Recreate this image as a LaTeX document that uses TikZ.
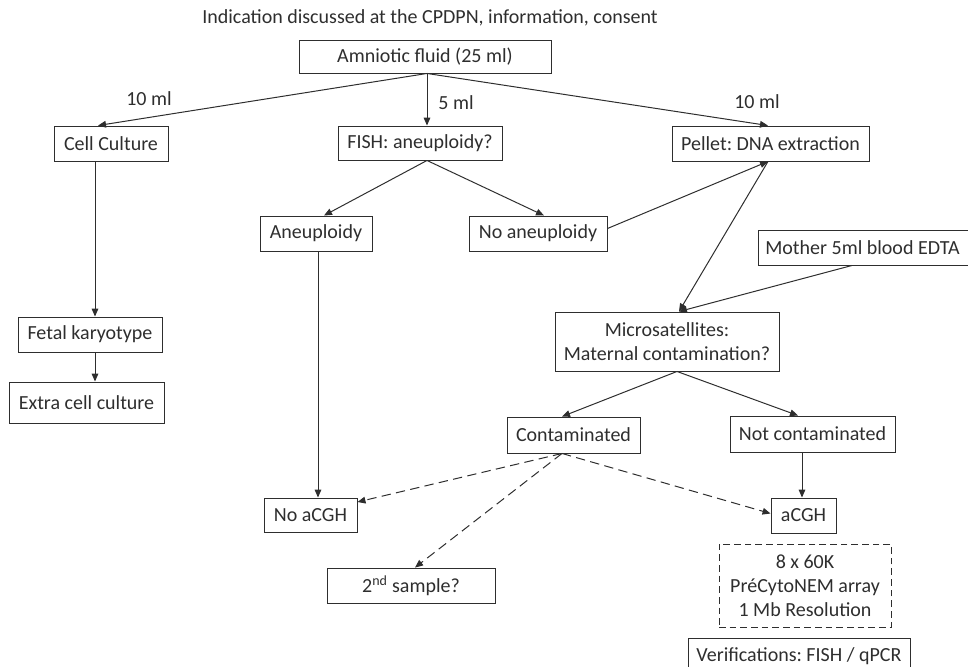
\documentclass[tikz,border=0pt]{standalone}
\usepackage{fontspec}
\setmainfont{Carlito}
\usetikzlibrary{arrows.meta,calc}
\definecolor{ink}{HTML}{2E2E2E}
\frenchspacing
\tikzset{
  lbl/.style={font=\fontsize{15}{18}\selectfont, text=ink, inner sep=0pt},
  box/.style={draw=ink, line width=0.7pt, font=\fontsize{15}{18}\selectfont, text=ink, align=center, inner sep=0pt},
  dbox/.style={box, line width=0.6pt, dash pattern=on 5pt off 3pt},
  conn/.style={draw=ink, line width=0.75pt, -{Triangle[length=6pt,width=5pt]}},
  dconn/.style={conn, dash pattern=on 7pt off 4pt},
  bw/.style={minimum width=#1*0.75pt},
  bh/.style={minimum height=#1*0.75pt}
}
\begin{document}
\begin{tikzpicture}[x=0.75pt,y=-0.75pt]
\useasboundingbox (0,0) rectangle (968,667);
\clip (0,0) rectangle (968,667);
% nodes
\node[lbl] (title) at (430,18) {Indication discussed at the CPDPN, information, consent};
\node[box,bw=252,bh=33] (amn) at (425,56.5) {Amniotic fluid (25 ml)};
\node[box,bw=114,bh=35] (cc) at (111,143.5) {Cell Culture};
\node[box,bw=164,bh=34] (fish) at (420,143) {FISH: aneuploidy?};
\node[box,bw=197,bh=35] (pel) at (770.5,143.5) {Pellet: DNA extraction};
\node[box,bw=112,bh=35] (aneu) at (316,233.5) {Aneuploidy};
\node[box,bw=138,bh=35] (noan) at (538,233.5) {No aneuploidy};
\node[box,bw=144,bh=35] (fk) at (90,334.5) {Fetal karyotype};
\node[box,bw=155,bh=41] (ecc) at (86.5,402.5) {Extra cell culture};
\node[box,bw=217,bh=35] (mom) at (866.5,247.5) {Mother 5ml blood EDTA\hspace*{6pt}};
\node[box,bw=224,bh=59] (mic) at (667,341.5) {Microsatellites:\\Maternal contamination?};
\node[box,bw=133,bh=36] (cont) at (573.5,435) {Contaminated};
\node[box,bw=165,bh=36] (ncont) at (812.5,434) {Not contaminated};
\node[box,bw=93,bh=34] (noa) at (310.5,515) {No aCGH};
\node[box,bw=168,bh=35] (sec) at (411,585.5) {2\textsuperscript{nd} sample?};
\node[box,bw=65,bh=35] (acgh) at (803.5,515.5) {aCGH};
\node[dbox,bw=172,bh=83] (arr) at (805,585.5) {8 x 60K\\PréCytoNEM array\\1 Mb Resolution};
\node[box,bw=222,bh=36] (ver) at (799,656) {Verifications: FISH / qPCR};
% labels
\node[lbl] (l1) at (149,99) {10 ml};
\node[lbl] (l2) at (456,103) {5 ml};
\node[lbl] (l3) at (757,102) {10 ml};
% connectors
\draw[conn] ($(amn.south)+(2,0)$) -- ($(cc.north)+(-13,0)$);
\draw[conn] ($(amn.south)+(2,0)$) -- ($(fish.north)+(7,0)$);
\draw[conn] ($(amn.south)+(2,0)$) -- ($(pel.north)+(-2.5,0)$);
\draw[conn] ($(cc.south)+(-16,0)$) -- ($(fk.north)+(5,0)$);
\draw[conn] ($(fk.south)+(5,0)$) -- ($(ecc.north)+(8.5,0)$);
\draw[conn] ($(fish.south)+(7,0)$) -- ($(aneu.north)+(8,0)$);
\draw[conn] ($(fish.south)+(7,0)$) -- ($(noan.north)+(6,0)$);
\draw[conn] ($(noan.east)+(0,-5)$) -- ($(pel.south)+(-2.5,0)$);
\draw[conn] ($(pel.south)+(-2.5,0)$) -- ($(mic.north)+(12,0)$);
\draw[conn] ($(mom.south)+(-14.5,0)$) -- ($(mic.north)+(12,0)$);
\draw[conn] ($(mic.south)+(10,0)$) -- ($(cont.north)+(-11.5,0)$);
\draw[conn] ($(mic.south)+(10,0)$) -- ($(ncont.north)+(-14.5,0)$);
\draw[conn] ($(aneu.south)+(2,0)$) -- ($(noa.north)+(7.5,0)$);
\draw[conn] ($(ncont.south)+(-10.5,0)$) -- ($(acgh.north)+(-1.5,0)$);
\draw[dconn] ($(cont.south)+(-11.5,0)$) -- ($(noa.east)+(0,-13)$);
\draw[dconn] ($(cont.south)+(-11.5,0)$) -- ($(sec.north)+(4,0)$);
\draw[dconn] ($(cont.south)+(-11.5,0)$) -- ($(acgh.west)+(0,-2)$);
\end{tikzpicture}
\end{document}
